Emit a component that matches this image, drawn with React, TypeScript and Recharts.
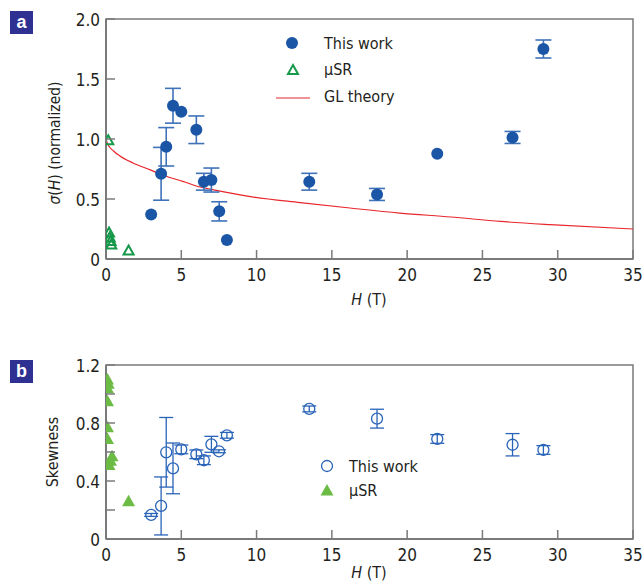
import React from "react";
import {
  ComposedChart,
  Scatter,
  Line,
  XAxis,
  YAxis,
  ErrorBar,
  ReferenceArea,
  Legend,
} from "recharts";

const FONT = "'Liberation Sans Narrow', 'DejaVu Sans Condensed', 'Liberation Sans', sans-serif";
const INK = "#231f20";
const FRAME = "#7a7a7a";

const hTicks = [0, 5, 10, 15, 20, 25, 30, 35];
const sigmaTicks = [0, 0.5, 1.0, 1.5, 2.0];
const skewTicks = [0, 0.2, 0.4, 0.6, 0.8, 1.0, 1.2];
const skewLabels = [0, 0.4, 0.8, 1.2];

// panel a: sigma(H), this work
const workH = [3.0, 3.66, 4.0, 4.45, 5.0, 6.0, 6.5, 7.0, 7.52, 8.03, 13.5, 18.0, 22.0, 27.0, 29.05];
const workSigma = [0.37, 0.71, 0.935, 1.277, 1.227, 1.077, 0.644, 0.658, 0.397, 0.158, 0.644, 0.538, 0.877, 1.013, 1.75];
const workSigmaErr = [0, 0.22, 0.16, 0.145, 0, 0.115, 0.07, 0.1, 0.08, 0, 0.07, 0.05, 0, 0.05, 0.075];

// panel a: muSR
const muH = [0.15, 0.2, 0.25, 0.3, 0.35, 1.5];
const muSigma = [0.99, 0.22, 0.18, 0.15, 0.12, 0.07];

// panel a: GL theory curve
const glH = [0, 0.1, 0.5, 0.9, 1.8, 2.9, 4.0, 5.1, 6.25, 7.0, 9.6, 12.9, 16.2, 19.5, 22.9, 26.2, 29.5, 35];
const glSigma = [1.0, 0.96, 0.9, 0.86, 0.8, 0.745, 0.69, 0.647, 0.6, 0.58, 0.52, 0.47, 0.425, 0.383, 0.35, 0.313, 0.286, 0.25];

// panel b: skewness, this work
const skewH = [3.0, 3.66, 4.0, 4.45, 5.0, 6.0, 6.5, 7.0, 7.5, 8.03, 13.5, 18.0, 22.0, 27.0, 29.05];
const skewVal = [0.166, 0.228, 0.598, 0.487, 0.618, 0.584, 0.543, 0.653, 0.605, 0.715, 0.897, 0.83, 0.69, 0.65, 0.614];
const skewErr = [0.01, 0.2, 0.24, 0.175, 0.03, 0.03, 0.03, 0.055, 0.01, 0.02, 0.02, 0.065, 0.03, 0.077, 0.03];

// panel b: muSR
const muSkewH = [0.1, 0.15, 0.1, 0.1, 0.1, 0.1, 0.4, 0.3, 0.2, 1.5];
const muSkew = [1.1, 1.07, 1.04, 0.95, 0.77, 0.69, 0.57, 0.54, 0.51, 0.26];

const workRows = workH.map((h, i) => ({ h, v: workSigma[i], e: workSigmaErr[i] || undefined }));
const muRows = muH.map((h, i) => ({ h, v: muSigma[i] }));
const glRows = glH.map((h, i) => ({ h, v: glSigma[i] }));
const skewRows = skewH.map((h, i) => ({ h, v: skewVal[i], e: skewErr[i] || undefined }));
const muSkewRows = muSkewH.map((h, i) => ({ h, v: muSkew[i] }));

const BLUE = "#1b56a6";
const BLUE_ERR = "#3f72b8";
const GREEN = "#16994a";
const GREEN_FILL = "#6cbb45";
const RED = "#e8262b";

const dot = (p: any) => <circle cx={p.cx} cy={p.cy} r={6} fill={BLUE} />;
const noMark = () => <g />;
const ring = (p: any) => (
  <circle cx={p.cx} cy={p.cy} r={5.5} fill="none" stroke="#2a64b8" strokeWidth={1.3} />
);
const openTri = (p: any) => (
  <polygon
    points={`${p.cx},${p.cy - 5} ${p.cx + 5},${p.cy + 4} ${p.cx - 5},${p.cy + 4}`}
    fill="none"
    stroke={GREEN}
    strokeWidth={2}
  />
);
const fillTri = (p: any) => (
  <polygon
    points={`${p.cx},${p.cy - 6.5} ${p.cx + 6.5},${p.cy + 5} ${p.cx - 6.5},${p.cy + 5}`}
    fill={GREEN_FILL}
  />
);

const XTick = (p: any) => (
  <g>
    <line x1={p.x} x2={p.x} y1={p.y - 22} y2={p.y - 31} stroke={FRAME} strokeWidth={1.5} />
    <text x={p.x} y={p.y} textAnchor="middle" fontSize={17} fontFamily={FONT} fill={INK}>
      {p.payload.value}
    </text>
  </g>
);

const makeYTick = (labels: number[] | null) => (p: any) => {
  const v = p.payload.value;
  const show = labels === null || labels.includes(v);
  return (
    <g>
      <line x1={p.x + 6} x2={p.x + 15} y1={p.y} y2={p.y} stroke={FRAME} strokeWidth={1.5} />
      {show && (
        <text x={p.x} y={p.y} dy="0.42em" textAnchor="end" fontSize={17} fontFamily={FONT} fill={INK}>
          {v === 0 ? "0" : v.toFixed(1)}
        </text>
      )}
    </g>
  );
};

const PanelTag = ({ letter, top }: { letter: string; top: number }) => (
  <div
    style={{
      position: "absolute",
      left: 10,
      top,
      width: 23,
      height: 23,
      background: "#2e3192",
      color: "#fff",
      fontFamily: "'Liberation Sans', sans-serif",
      fontWeight: 700,
      fontSize: 18,
      lineHeight: "22px",
      textAlign: "center",
    }}
  >
    {letter}
  </div>
);

const LegendA = () => (
  <svg width={160} height={90} style={{ display: "block" }}>
    <circle cx={22} cy={15} r={6} fill={BLUE} />
    <polygon points="23,37 28,46 18,46" fill="none" stroke={GREEN} strokeWidth={2} />
    <line x1={6} x2={40} y1={70} y2={70} stroke={RED} strokeWidth={1.2} />
    <g fontFamily={FONT} fontSize={16} fill={INK}>
      <text x={54} y={21}>This work</text>
      <text x={54} y={47}>μSR</text>
      <text x={54} y={74}>GL theory</text>
    </g>
  </svg>
);

const LegendB = () => (
  <svg width={130} height={50} style={{ display: "block" }}>
    <circle cx={12} cy={11} r={5.5} fill="none" stroke="#2a64b8" strokeWidth={1.3} />
    <polygon points="12,29 18.5,40.5 5.5,40.5" fill={GREEN_FILL} />
    <g fontFamily={FONT} fontSize={16} fill={INK}>
      <text x={34} y={17}>This work</text>
      <text x={34} y={41}>μSR</text>
    </g>
  </svg>
);

const HLabel = ({ y }: { y: number }) => (
  <text x={369} y={y} textAnchor="middle" fontFamily={FONT} fontSize={16} fill={INK}>
    <tspan fontStyle="italic">H</tspan> (T)
  </text>
);

export default function App() {
  return (
    <div style={{ position: "absolute", left: 0, top: 0, width: 643, height: 583, background: "#fff" }}>
      <PanelTag letter="a" top={11} />
      <PanelTag letter="b" top={360} />

      <div style={{ position: "absolute", left: 0, top: 0 }}>
        <ComposedChart width={643} height={320} margin={{ top: 19, right: 10, bottom: 0, left: 0 }}>
          <XAxis
            type="number"
            dataKey="h"
            domain={[0, 35]}
            ticks={hTicks}
            allowDataOverflow
            height={61}
            tickSize={0}
            tickLine={false}
            tickMargin={22}
            tick={XTick}
            axisLine={{ stroke: FRAME, strokeWidth: 2 }}
            label={{ content: () => <HLabel y={305} /> }}
          />
          <YAxis
            type="number"
            dataKey="v"
            domain={[0, 2]}
            ticks={sigmaTicks}
            allowDataOverflow
            width={106}
            tickSize={0}
            tickLine={false}
            tickMargin={6}
            tick={makeYTick(null)}
            axisLine={{ stroke: FRAME, strokeWidth: 2 }}
            label={{
              content: () => (
                <text
                  transform="translate(60,143) rotate(-90)"
                  textAnchor="middle"
                  fontFamily={FONT}
                  fontSize={15.5}
                  fill={INK}
                >
                  <tspan fontStyle="italic">σ</tspan>(<tspan fontStyle="italic">H</tspan>) (normalized)
                </text>
              ),
            }}
          />
          <ReferenceArea x1={0} x2={35} y1={0} y2={2} fill="none" stroke={FRAME} strokeWidth={1.5} />
          <Line
            data={glRows}
            dataKey="v"
            type="monotone"
            stroke={RED}
            strokeWidth={1.2}
            dot={false}
            activeDot={false}
            isAnimationActive={false}
          />
          <Scatter data={muRows} dataKey="v" shape={openTri} isAnimationActive={false} />
          {/* error bars first so the filled dots sit on top of them */}
          <Scatter data={workRows} dataKey="v" shape={noMark} isAnimationActive={false}>
            <ErrorBar dataKey="e" direction="y" width={8} stroke={BLUE_ERR} strokeWidth={1.6} />
          </Scatter>
          <Scatter data={workRows} dataKey="v" shape={dot} isAnimationActive={false} />
          <Legend
            layout="vertical"
            align="center"
            verticalAlign="middle"
            content={() => <LegendA />}
            wrapperStyle={{ left: 270, top: 28, width: 160 }}
          />
        </ComposedChart>
      </div>

      <div style={{ position: "absolute", left: 0, top: 340 }}>
        <ComposedChart width={643} height={243} margin={{ top: 25, right: 10, bottom: 0, left: 0 }}>
          <XAxis
            type="number"
            dataKey="h"
            domain={[0, 35]}
            ticks={hTicks}
            allowDataOverflow
            height={44}
            tickSize={0}
            tickLine={false}
            tickMargin={22}
            tick={XTick}
            axisLine={{ stroke: FRAME, strokeWidth: 2 }}
            label={{ content: () => <HLabel y={238} /> }}
          />
          <YAxis
            type="number"
            dataKey="v"
            domain={[0, 1.2]}
            ticks={skewTicks}
            allowDataOverflow
            width={106}
            tickSize={0}
            tickLine={false}
            tickMargin={6}
            tick={makeYTick(skewLabels)}
            axisLine={{ stroke: FRAME, strokeWidth: 2 }}
            label={{
              content: () => (
                <text
                  transform="translate(58,112) rotate(-90)"
                  textAnchor="middle"
                  fontFamily={FONT}
                  fontSize={16}
                  fill={INK}
                >
                  Skewness
                </text>
              ),
            }}
          />
          <ReferenceArea x1={0} x2={35} y1={0} y2={1.2} fill="none" stroke={FRAME} strokeWidth={1.5} />
          <Scatter data={muSkewRows} dataKey="v" shape={fillTri} isAnimationActive={false} />
          <Scatter data={skewRows} dataKey="v" shape={ring} isAnimationActive={false}>
            <ErrorBar dataKey="e" direction="y" width={7} stroke="#2a64b8" strokeWidth={1.3} />
          </Scatter>
          <Legend
            layout="vertical"
            align="center"
            verticalAlign="middle"
            content={() => <LegendB />}
            wrapperStyle={{ left: 315, top: 115, width: 130 }}
          />
        </ComposedChart>
      </div>
    </div>
  );
}
